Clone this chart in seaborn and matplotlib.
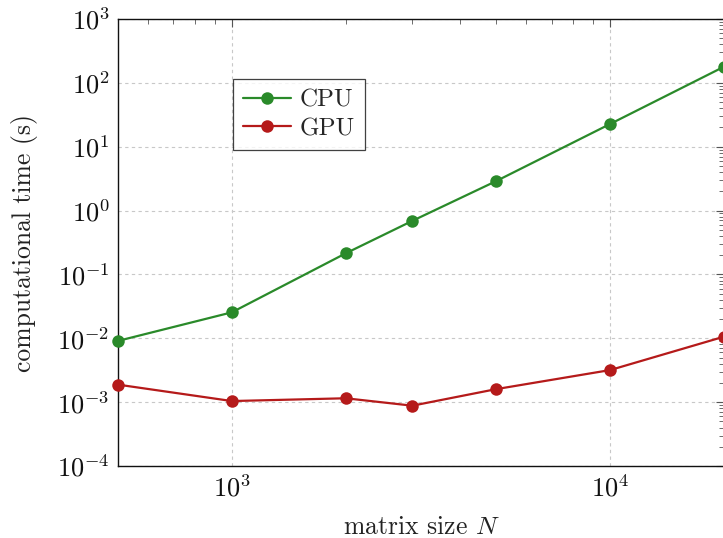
import numpy as np
import pandas as pd
import matplotlib
matplotlib.use("Agg")
import matplotlib.pyplot as plt
import seaborn as sns
from matplotlib.ticker import LogLocator, NullFormatter

# Benchmark results: wall time of the solver for increasing matrix size
matrix_sizes = [500, 1000, 2000, 3000, 5000, 10000, 20000]
cpu_times = [0.0091, 0.0255, 0.214, 0.69, 2.9, 22.7, 179.0]
gpu_times = [0.00188, 0.00104, 0.00115, 0.00088, 0.0016, 0.00318, 0.0106]
devices = ["CPU", "GPU"]
colors = {"CPU": "#2a8a2a", "GPU": "#b51a1a"}

df = pd.DataFrame({
    "N": matrix_sizes * 2,
    "time": cpu_times + gpu_times,
    "device": [devices[0]] * len(matrix_sizes) + [devices[1]] * len(matrix_sizes),
})

sns.set_style("white")
plt.rcParams["font.family"] = ["cmr10", "DejaVu Serif"]
plt.rcParams["mathtext.fontset"] = "cm"
plt.rcParams["axes.formatter.use_mathtext"] = True
plt.rcParams["axes.unicode_minus"] = False

fig = plt.figure(figsize=(7.23, 5.38), dpi=100)
ax = fig.add_axes([118 / 723, 72 / 538, 606 / 723, 447 / 538])

sns.lineplot(
    data=df, x="N", y="time", hue="device", palette=colors,
    marker="o", markersize=9, markeredgewidth=0, linewidth=1.6,
    ax=ax, clip_on=False, zorder=3,
)

ax.set_xscale("log")
ax.set_yscale("log")
ax.set_xlim(500, 20000)
ax.set_ylim(1e-4, 1e3)

ax.xaxis.set_major_locator(LogLocator(base=10, numticks=10))
ax.xaxis.set_minor_locator(LogLocator(base=10, subs=np.arange(2, 10), numticks=20))
ax.yaxis.set_major_locator(LogLocator(base=10, numticks=20))
ax.yaxis.set_minor_locator(LogLocator(base=10, subs=np.arange(2, 10), numticks=40))
ax.xaxis.set_minor_formatter(NullFormatter())
ax.yaxis.set_minor_formatter(NullFormatter())

ax.grid(True, which="major", linestyle=(0, (3, 3)), color="#c8c8c8", linewidth=0.8)
ax.tick_params(which="both", direction="in", top=True, right=True, colors="#555555",
               labelcolor="#111111", labelsize=19)
ax.tick_params(which="major", length=6, width=0.8, pad=6)
ax.tick_params(which="minor", length=3.5, width=0.6)
for side in ["left", "bottom", "top", "right"]:
    ax.spines[side].set_color("#111111")
    ax.spines[side].set_linewidth(1.0)

ax.set_xlabel("matrix size $N$", fontsize=18.5, color="#222222", labelpad=10)
ax.set_ylabel("computational time (s)", fontsize=18.5, color="#222222", labelpad=14)

leg = ax.legend(loc="upper left", bbox_to_anchor=(0.19, 0.866), fontsize=18,
                frameon=True, fancybox=False, edgecolor="#111111",
                handlelength=1.9, borderpad=0.4, labelspacing=0.25,
                handletextpad=0.35, borderaxespad=0)
leg.get_frame().set_linewidth(0.9)
leg.set_title(None)

fig.savefig("out.png", dpi=100)
